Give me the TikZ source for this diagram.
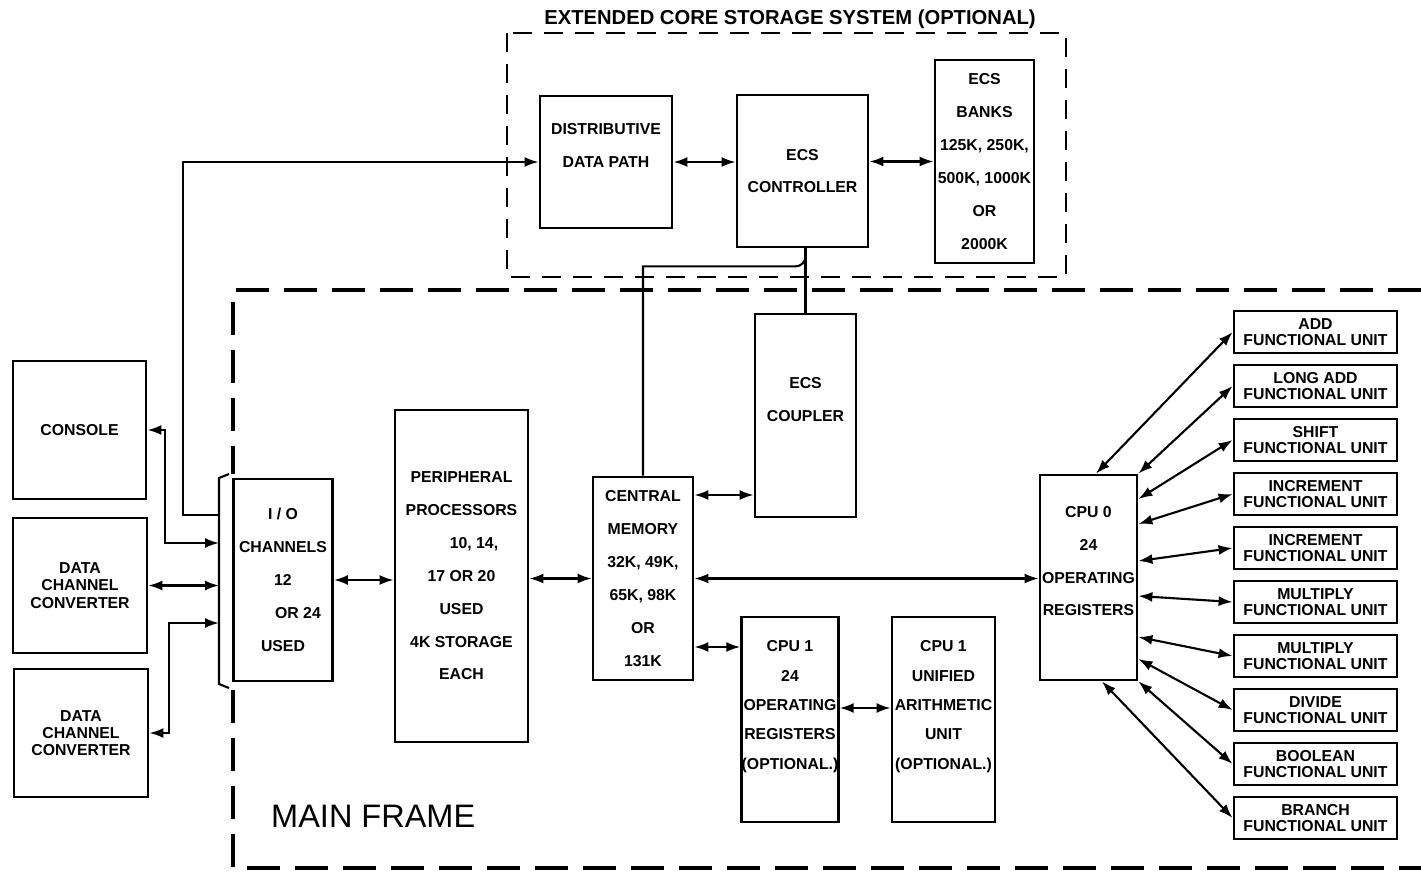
\documentclass[tikz,border=0pt]{standalone}
\usepackage{fontspec}
\setmainfont{Liberation Sans}
\usetikzlibrary{arrows.meta,positioning,calc}

\begin{document}
\begin{tikzpicture}[
        x=0.02cm, y=0.02cm,
        >={Latex[length=2.8mm,width=2mm]},
        box/.style={rectangle, draw=black, line width=1.6pt, inner sep=0pt, align=center, font=\bfseries\fontsize{9}{18.7}\selectfont},
        tightbox/.style={box, font=\bfseries\fontsize{9}{9.8}\selectfont},
        cpubox/.style={box, font=\bfseries\fontsize{9}{16.7}\selectfont},
        fubox/.style={box, minimum width=3.26cm, minimum height=0.84cm, font=\bfseries\fontsize{9}{9.4}\selectfont},
        arrow/.style={<->, line width=1.2pt},
        line/.style={line width=1.2pt},
        ecsframe/.style={line width=1.4pt, dash pattern=on 0.38cm off 0.24cm},
        mainframe/.style={line width=2.2pt, dash pattern=on 0.66cm off 0.3cm}
    ]
    \useasboundingbox (0,0) rectangle (1421,-872);

    % extended core storage
    \draw[ecsframe] (507,-33) rectangle (1066,-277);
    \node[font=\bfseries\fontsize{11.5}{12}\selectfont] (ecstitle) at (790,-19) {EXTENDED CORE STORAGE SYSTEM (OPTIONAL)};
    \node[box, minimum width=2.64cm, minimum height=2.64cm] (ddp) at (606,-162) {DISTRIBUTIVE\\DATA PATH\\ };
    \node[box, minimum width=2.62cm, minimum height=3.04cm] (ecsctl) at (802.5,-171) {ECS\\CONTROLLER};
    \node[box, minimum width=1.98cm, minimum height=4.06cm] (banks) at (984.5,-161.5) {ECS\\BANKS\\125K, 250K,\\500K, 1000K\\OR\\2000K};

    \draw[arrow] (ddp.east) -- (ddp.east -| ecsctl.west);
    \draw[arrow] (banks.west -| ecsctl.east) -- (banks.west);

    % main frame
    \draw[mainframe] (1421,-290) -- (233,-290) -- (233,-474);
    \draw[mainframe] (233,-690) -- (233,-868) -- (1421,-868);
    \node[anchor=base west, font=\fontsize{18.5}{20}\selectfont] (mftitle) at (265,-827) {MAIN FRAME};

    \node[box, minimum width=2.66cm, minimum height=2.76cm] (console) at (79.5,-430) {CONSOLE};
    \node[tightbox, minimum width=2.68cm, minimum height=2.70cm] (dcc1) at (80,-585.5) {DATA\\CHANNEL\\CONVERTER};
    \node[tightbox, minimum width=2.68cm, minimum height=2.56cm] (dcc2) at (81,-733) {DATA\\CHANNEL\\CONVERTER};

    \node[box, minimum width=1.98cm, minimum height=4.04cm] (io) at (283,-580) {I / O\\CHANNELS\\12\\\hspace*{0.6cm}OR 24\\USED};
    \node[box, minimum width=2.66cm, minimum height=6.64cm] (pp) at (461.5,-576) {PERIPHERAL\\PROCESSORS\\\hspace*{0.5cm}10, 14,\\17 OR 20\\USED\\4K STORAGE\\EACH};
    \node[box, minimum width=2.0cm, minimum height=4.06cm] (cm) at (643,-578.5) {CENTRAL\\MEMORY\\32K, 49K,\\65K, 98K\\OR\\131K};
    \node[box, minimum width=2.02cm, minimum height=4.06cm] (coupler) at (805.5,-415.5) {ECS\\COUPLER\\ };
    \node[cpubox, minimum width=1.92cm, minimum height=4.1cm] (cpu1reg) at (790,-719.5) {CPU 1\\24\\OPERATING\\REGISTERS\\(OPTIONAL.)\\ };
    \node[cpubox, minimum width=2.06cm, minimum height=4.1cm] (cpu1alu) at (943.5,-719.5) {CPU 1\\UNIFIED\\ARITHMETIC\\UNIT\\(OPTIONAL.)\\ };
    \node[box, minimum width=1.94cm, minimum height=4.1cm] (cpu0) at (1088.5,-577.5) {CPU 0\\24\\OPERATING\\REGISTERS\\ };

    \node[fubox] (fuadd) at (1315.5,-332) {ADD\\FUNCTIONAL UNIT};
    \node[fubox] (fulongadd) at (1315.5,-386) {LONG ADD\\FUNCTIONAL UNIT};
    \node[fubox] (fushift) at (1315.5,-440) {SHIFT\\FUNCTIONAL UNIT};
    \node[fubox] (fuincra) at (1315.5,-494) {INCREMENT\\FUNCTIONAL UNIT};
    \node[fubox] (fuincrb) at (1315.5,-548) {INCREMENT\\FUNCTIONAL UNIT};
    \node[fubox] (fumula) at (1315.5,-602) {MULTIPLY\\FUNCTIONAL UNIT};
    \node[fubox] (fumulb) at (1315.5,-656) {MULTIPLY\\FUNCTIONAL UNIT};
    \node[fubox] (fudiv) at (1315.5,-710) {DIVIDE\\FUNCTIONAL UNIT};
    \node[fubox] (fubool) at (1315.5,-764) {BOOLEAN\\FUNCTIONAL UNIT};
    \node[fubox] (fubranch) at (1315.5,-818) {BRANCH\\FUNCTIONAL UNIT};

    % i/o bracket
    \coordinate (brktop) at (219,-478);
    \coordinate (brkbot) at (219,-684);
    \draw[line] ([shift={(10,4)}]brktop) -- (brktop) -- (brkbot) -- ([shift={(10,-4)}]brkbot);

    \draw[arrow] (console.east) -- ++(18,0) |- (brktop |- 0,-543);
    \draw[arrow] (dcc1.east) -- (dcc1.east -| brktop);
    \draw[arrow] (dcc2.east) -- ++(20,0) |- (brktop |- 0,-623);
    \draw[line, ->] (brktop |- 0,-515) -- ++(-36,0) |- (ddp.west);

    \draw[arrow] (io.east) -- (io.east -| pp.west);
    \draw[arrow] (pp.east |- cm.west) -- (cm.west);
    \draw[arrow] (cm.east) -- (cm.east -| cpu0.west);
    \draw[arrow] (cm.east |- 0,-495) -- (coupler.west |- 0,-495);
    \draw[arrow] (cm.east |- 0,-647) -- (cpu1reg.west |- 0,-647);
    \draw[arrow] (cpu1reg.east |- 0,-708) -- (cpu1alu.west |- 0,-708);

    % ecs links
    \draw[line] (ecsctl.south -| coupler.north) -- (coupler.north);
    \draw[line] (ecsctl.south -| coupler.north) -- ++(0,-8) arc (0:-90:10) -| (cm.north);

    % functional units
    \draw[arrow] (cpu0.north -| 1096,0) -- (fuadd.west);
    \draw[arrow] (cpu0.north east) -- (fulongadd.west);
    \draw[arrow] (cpu0.east |- 0,-499) -- (fushift.west);
    \draw[arrow] (cpu0.east |- 0,-524) -- (fuincra.west);
    \draw[arrow] (cpu0.east |- 0,-561) -- (fuincrb.west);
    \draw[arrow] (cpu0.east |- 0,-596) -- (fumula.west);
    \draw[arrow] (cpu0.east |- 0,-637) -- (fumulb.west);
    \draw[arrow] (cpu0.east |- 0,-659) -- (fudiv.west);
    \draw[arrow] (cpu0.south east) -- (fubool.west);
    \draw[arrow] (cpu0.south -| 1102,0) -- (fubranch.west);

\end{tikzpicture}
\end{document}
